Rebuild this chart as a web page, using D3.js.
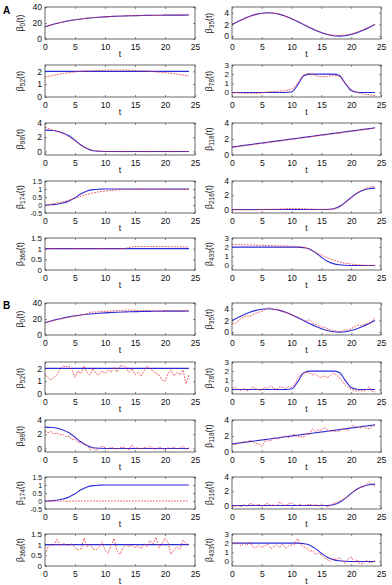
<!DOCTYPE html>
<html><head><meta charset="utf-8">
<script src="https://cdn.jsdelivr.net/npm/d3@7"></script>
<style>body{margin:0;background:#fff}svg{display:block;font-family:"Liberation Sans",Arial,sans-serif}</style>
</head><body><svg id="c" width="392" height="585"></svg>
<script>
// ---------- data ----------
const xTicks = [0,5,10,15,20,25];
const tS = [0,1,2,3,4,5,6,7,8,9,10,11,12,13,14,15,16,17,18,19,20,21,22,23,24];
const tN = d3.range(0,24.01,0.5);   // sampling grid of the noisy estimates (49 points)

const coefNames = ["0","35","52","78","98","118","174","216","368","433"];
const yDomains = {"0":[0,40],"35":[-0.5,5],"52":[0,2.5],"78":[-0.5,3],"98":[-0.5,4],"118":[0,4],"174":[-0.5,1.5],"216":[-0.5,4],"368":[0,1.5],"433":[-0.5,3]};
const yTicks = {"0":[0,20,40],"35":[0,2,4],"52":[0,1,2],"78":[0,1,2,3],"98":[0,2,4],"118":[0,2,4],"174":[-0.5,0,0.5,1,1.5],"216":[0,2,4],"368":[0,0.5,1,1.5],"433":[0,1,2,3]};

// true coefficient functions (blue), on tS
const trueB0   = [15,17.5,19.5,21.3,22.8,24.0,25.0,25.9,26.6,27.2,27.7,28.1,28.5,28.8,29.0,29.2,29.4,29.5,29.6,29.7,29.8,29.8,29.9,29.9,30.0];
const trueB35  = [2,2.52,3.0,3.41,3.73,3.93,4.0,3.93,3.73,3.41,3.0,2.52,2.0,1.48,1.0,0.59,0.27,0.07,0,0.07,0.27,0.59,1.0,1.48,2.0];
const trueB52  = [2,2,2,2,2,2,2,2,2,2,2,2,2,2,2,2,2,2,2,2,2,2,2,2,2];
const trueB78  = [0,0,0,0,0,0,0,0,0,0,0.05,0.8,1.8,2.0,2.0,2.0,2.0,2.0,1.85,1.0,0.2,0.02,0,0,0];
const trueB98  = [3,2.95,2.85,2.6,2.2,1.6,0.9,0.4,0.1,0.02,0,0,0,0,0,0,0,0,0,0,0,0,0,0,0];
const trueB118 = [1.0,1.1,1.2,1.3,1.4,1.5,1.6,1.7,1.8,1.9,2.0,2.1,2.2,2.3,2.4,2.5,2.6,2.7,2.8,2.9,3.0,3.1,3.2,3.3,3.4];
const trueB174 = [0,0.02,0.05,0.12,0.25,0.45,0.7,0.88,0.96,0.99,1,1,1,1,1,1,1,1,1,1,1,1,1,1,1];
const trueB216 = [0,0,0,0,0,0,0,0,0,0,0,0,0,0,0,0,0,0.1,0.4,1.0,1.7,2.3,2.7,2.9,3.0];
const trueB368 = [1,1,1,1,1,1,1,1,1,1,1,1,1,1,1,1,1,1,1,1,1,1,1,1,1];
const trueB433 = [2,2,2,2,2,2,2,2,2,2,2,2,1.95,1.8,1.4,0.9,0.45,0.2,0.07,0.02,0,0,0,0,0];

// panel A estimates (red dashed), on tS
const estA0   = [15.5,17.6,19.6,21.4,22.9,24.1,25.1,26.0,26.8,27.4,27.9,28.3,28.6,28.8,29.0,29.2,29.3,29.4,29.5,29.6,29.7,29.8,29.9,30.0,30.1];
const estA35  = [2.05,2.5,2.95,3.35,3.7,3.9,4.0,3.95,3.75,3.4,3.0,2.5,2.0,1.5,1.05,0.65,0.35,0.15,0.1,0.2,0.4,0.7,1.1,1.55,2.05];
const estA52  = [1.55,1.65,1.75,1.83,1.9,1.96,2.0,2.03,2.06,2.08,2.09,2.1,2.1,2.1,2.09,2.07,2.05,2.02,1.98,1.94,1.9,1.85,1.79,1.72,1.65];
const estA78  = [0,-0.05,-0.1,-0.1,-0.1,-0.05,0.05,0.1,0.15,0.2,0.35,1.0,1.9,2.05,1.85,1.72,1.75,1.85,1.75,1.0,0.3,0.0,-0.15,-0.25,-0.35];
const estA98  = [3.4,3.1,2.8,2.5,2.05,1.45,0.85,0.4,0.15,0.05,0,-0.02,-0.03,-0.03,-0.03,-0.03,-0.03,-0.03,-0.03,-0.03,-0.03,-0.03,-0.03,-0.03,-0.03];
const estA118 = [0.95,1.05,1.15,1.25,1.35,1.45,1.55,1.65,1.75,1.85,1.95,2.05,2.15,2.25,2.35,2.45,2.55,2.65,2.75,2.85,2.95,3.05,3.15,3.25,3.35];
const estA174 = [-0.05,0.05,0.12,0.2,0.3,0.42,0.55,0.66,0.75,0.82,0.87,0.91,0.94,0.96,0.97,0.98,0.98,0.98,0.98,0.98,0.98,0.97,0.97,0.97,0.97];
const estA216 = [-0.05,-0.05,-0.05,-0.05,-0.05,-0.03,0,0.03,0.05,0.1,0.15,0.13,0.1,0.06,0.03,0,0.02,0.05,0.3,0.9,1.6,2.3,2.8,3.1,3.2];
const estA368 = [1,1,1,1,1,1,1,1,1,1,1,1,1,1,1.05,1.1,1.1,1.1,1.1,1.1,1.1,1.09,1.09,1.08,1.08];
const estA433 = [2.3,2.28,2.26,2.24,2.22,2.2,2.18,2.16,2.14,2.12,2.1,2.05,2.0,1.75,1.45,1.15,0.85,0.6,0.4,0.25,0.15,0.08,0.03,0,0];

// panel B estimates (red dashed), on tN except B174 (tS)
const estB0   = [16.0,16.5,17.5,18.0,19.0,19.6,20.5,21.3,22.0,22.8,23.6,24.3,25.0,25.8,26.5,28.5,28.8,28.6,29.0,29.3,29.5,29.7,29.9,30.2,30.5,30.3,30.6,31.0,31.2,30.8,31.0,30.6,30.5,30.7,30.6,30.4,30.5,30.3,30.6,30.4,30.5,30.2,30.4,30.3,30.5,30.2,30.6,30.4,30.2];
const estB35  = [1.5,1.4,1.9,2.3,2.6,2.8,2.7,3.0,3.2,3.4,3.6,3.8,4.1,4.2,3.8,3.9,3.7,3.5,3.4,3.2,3.0,2.7,2.6,2.3,2.0,1.9,2.1,1.6,1.3,1.1,0.9,0.8,0.6,0.4,0.3,0.2,0.0,0.2,0.4,0.3,0.6,0.9,1.2,1.1,1.3,1.4,1.6,1.9,2.5];
const estB52  = [1.5,1.3,1.1,1.3,1.5,1.9,2.2,2.1,2.2,1.9,1.3,1.8,1.6,2.2,1.7,1.5,2.0,1.6,1.5,1.8,1.6,1.9,1.7,2.1,1.7,2.2,2.2,2.1,1.7,2.0,1.5,1.7,1.4,1.8,2.2,2.0,1.8,1.6,1.5,1.1,1.0,1.6,1.9,1.4,1.7,1.5,1.9,0.8,1.5];
const estB78  = [0.1,0.3,0.0,-0.1,0.1,-0.2,0.0,0.3,0.1,-0.1,0.0,0.2,0.1,0.4,0.1,0.0,0.3,0.2,0.1,0.3,0.2,0.5,1.2,1.6,1.8,1.9,1.8,1.6,1.7,1.4,1.3,1.5,1.3,1.5,1.8,1.6,1.3,0.9,0.5,0.2,0.0,-0.1,-0.2,-0.1,-0.2,-0.1,0.3,-0.2,-0.3];
const estB98  = [2.5,2.2,2.4,2.0,2.2,1.9,2.0,1.6,1.7,1.2,1.4,0.8,1.0,0.6,0.4,-0.2,0.1,-0.3,0.0,0.3,0.1,-0.1,0.2,0.0,-0.1,0.1,0.2,0.0,-0.2,0.5,0.0,0.1,-0.1,0.2,0.0,0.3,0.0,-0.1,0.2,0.0,-0.2,0.1,0.0,0.2,-0.1,0.1,0.3,-0.1,0.1];
const estB118 = [1.0,0.9,1.2,1.1,1.3,1.2,1.5,1.3,1.1,1.0,0.7,1.3,1.5,1.4,1.8,1.6,1.8,1.9,2.0,1.8,2.1,2.2,1.9,2.0,1.8,2.4,2.2,2.9,2.6,2.8,2.7,3.1,2.8,2.5,2.7,2.5,2.6,2.9,2.8,2.7,3.2,3.3,3.1,3.0,3.2,3.0,2.9,3.2,3.3];
const estB174 = [0,0,0,0,0,0,0,0,0,0,0,0,0,0,0,0,0,0,0,0,0,0,0,0,0];
const estB216 = [-0.2,-0.1,0.0,-0.2,0.1,-0.1,0.3,0.1,0.0,0.2,-0.1,0.1,0.3,0.0,0.1,-0.1,0.5,0.1,0.0,0.2,0.4,0.1,0.0,0.2,-0.1,0.1,0.2,0.0,0.1,-0.1,0.2,0.0,-0.2,0.0,0.3,0.4,0.6,0.8,1.0,1.3,1.7,2.0,2.3,2.5,2.6,2.8,3.3,2.9,2.7];
const estB368 = [0.55,0.9,1.0,0.95,1.25,0.95,1.05,1.0,0.95,1.05,0.85,0.75,0.8,1.3,0.9,1.0,0.8,0.75,0.9,1.1,0.75,0.6,0.95,1.3,0.7,0.55,0.85,1.0,0.9,1.0,0.85,0.95,0.8,1.05,0.9,1.2,1.05,1.35,0.85,1.05,1.3,1.1,0.55,0.75,0.9,0.8,1.2,1.05,1.0];
const estB433 = [2.0,1.9,2.0,1.7,2.0,1.8,2.1,1.6,1.5,1.8,1.5,1.7,1.9,1.4,1.6,1.8,1.5,1.9,1.4,1.7,1.8,1.9,2.5,1.8,1.6,1.5,1.1,1.2,0.8,0.9,0.7,0.4,0.2,0.0,0.3,0.2,0.4,0.1,-0.2,0.3,0.5,-0.1,0.2,-0.3,-0.2,0.1,-0.1,-0.1,0.1];

const trueSeries = {"0":trueB0,"35":trueB35,"52":trueB52,"78":trueB78,"98":trueB98,"118":trueB118,"174":trueB174,"216":trueB216,"368":trueB368,"433":trueB433};
const estA = {"0":estA0,"35":estA35,"52":estA52,"78":estA78,"98":estA98,"118":estA118,"174":estA174,"216":estA216,"368":estA368,"433":estA433};
const estB = {"0":estB0,"35":estB35,"52":estB52,"78":estB78,"98":estB98,"118":estB118,"174":estB174,"216":estB216,"368":estB368,"433":estB433};
const leftCol = ["0","52","98","174","368"];
const rightCol = ["35","78","118","216","433"];

// ---------- layout ----------
const svg = d3.select("#c");
const colX = [{x0:45,x1:195,lab:23},{x0:232,x1:381,lab:212}];
const rowTopsA = [7,65,123,181,238];
const rowTopsB = [303,362,420,477,534];
const PH = 32;
const blue = "#2b2bd8", red = "#e8323c", frame = "#444";

function panel(name, col, top, est, estT, estCurve) {
  const c = colX[col];
  const x = d3.scaleLinear().domain([0,25]).range([c.x0,c.x1]);
  const y = d3.scaleLinear().domain(yDomains[name]).range([top+PH, top]);
  const g = svg.append("g");
  const fmt = d => String(d);
  const fs = "8.6px";
  const nT = yTicks[name].length;
  const yfs = nT >= 5 ? "6.8px" : (nT === 4 ? "8px" : fs);
  // axes
  const ax = g.append("g").attr("transform",`translate(0,${top+PH})`)
    .call(d3.axisBottom(x).tickValues(xTicks).tickSize(-2).tickPadding(5).tickFormat(fmt));
  const axT = g.append("g").attr("transform",`translate(0,${top})`)
    .call(d3.axisTop(x).tickValues(xTicks).tickSize(-2).tickFormat(""));
  const ay = g.append("g").attr("transform",`translate(${c.x0},0)`)
    .call(d3.axisLeft(y).tickValues(yTicks[name]).tickSize(-2).tickPadding(3).tickFormat(fmt));
  const ayR = g.append("g").attr("transform",`translate(${c.x1},0)`)
    .call(d3.axisRight(y).tickValues(yTicks[name]).tickSize(-2).tickFormat(""));
  [ax,axT,ay,ayR].forEach(a=>{
    a.select(".domain").remove();
    a.selectAll("line").attr("stroke",frame).attr("stroke-width",0.6);
    a.selectAll("text").attr("font-size",fs).attr("fill","#111").attr("font-family","Liberation Sans, Arial, sans-serif");
  });
  ay.selectAll("text").attr("font-size",yfs);
  // clip
  const cid = "clip"+name+"_"+top;
  g.append("clipPath").attr("id",cid).append("rect").attr("x",c.x0).attr("y",top).attr("width",c.x1-c.x0).attr("height",PH);
  const lines = g.append("g").attr("clip-path",`url(#${cid})`);
  const lineS = d3.line().x((d,i)=>x(tS[i])).y(d=>y(d)).curve(d3.curveMonotoneX);
  lines.append("path").attr("d",lineS(trueSeries[name])).attr("fill","none").attr("stroke",blue).attr("stroke-width",1.1);
  const lineE = d3.line().x((d,i)=>x(estT[i])).y(d=>y(d)).curve(estCurve);
  lines.append("path").attr("d",lineE(est)).attr("fill","none").attr("stroke",red).attr("stroke-width",0.8).attr("stroke-dasharray","1.8,1.2");
  // frame
  g.append("rect").attr("x",c.x0).attr("y",top).attr("width",c.x1-c.x0).attr("height",PH)
    .attr("fill","none").attr("stroke",frame).attr("stroke-width",0.8);
  // x label
  g.append("text").attr("x",(c.x0+c.x1)/2).attr("y",top+PH+18).attr("text-anchor","middle")
    .attr("font-size",fs).attr("fill","#111").text("t");
  // y label
  const yl = g.append("text").attr("transform",`translate(${c.lab},${top+PH/2}) rotate(-90)`)
    .attr("text-anchor","middle").attr("font-size",fs).attr("fill","#111");
  yl.append("tspan").text("\u03B2");
  yl.append("tspan").attr("font-size","6.5px").attr("dy","2").text(name);
  yl.append("tspan").attr("dy","-2").text("(t)");
}

function block(tops, estObj, isB) {
  leftCol.forEach((n,i)=>{
    const useS = !isB || n==="174";
    panel(n,0,tops[i],estObj[n],useS?tS:tN,useS?d3.curveMonotoneX:d3.curveLinear);
  });
  rightCol.forEach((n,i)=>{
    const useS = !isB;
    panel(n,1,tops[i],estObj[n],useS?tS:tN,useS?d3.curveMonotoneX:d3.curveLinear);
  });
}
block(rowTopsA, estA, false);
block(rowTopsB, estB, true);

svg.append("text").attr("x",3).attr("y",14).attr("font-size","10px").attr("font-weight","bold").text("A");
svg.append("text").attr("x",3).attr("y",309).attr("font-size","10px").attr("font-weight","bold").text("B");
</script></body></html>
